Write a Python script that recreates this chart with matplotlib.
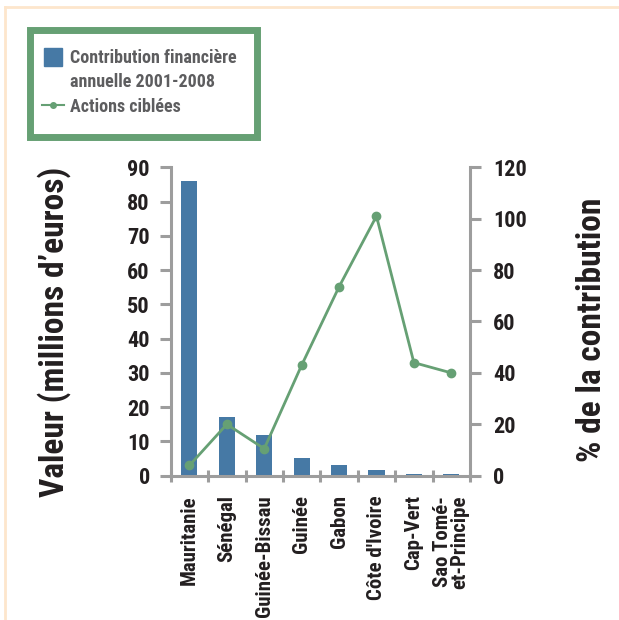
import matplotlib
matplotlib.use("Agg")
import matplotlib.pyplot as plt
from matplotlib.lines import Line2D
from matplotlib.patches import Rectangle
import numpy as np

plt.rcParams['font.family'] = ['Roboto Condensed', 'DejaVu Sans']

# data
pays = ["Mauritanie", "Sénégal", "Guinée-Bissau", "Guinée", "Gabon",
        "Côte d'Ivoire", "Cap-Vert", "Sao Tomé-\net-Principe"]
contribution = [86, 17, 12, 5.2, 3.2, 1.7, 0.6, 0.6]       # millions d'euros
actions_pct = [4, 20, 10.5, 43, 73.5, 101, 44, 40]          # % de la contribution
ticks_gauche = list(range(0, 91, 10))
ticks_droite = list(range(0, 121, 20))

bleu = '#4679a5'
vert = '#66a074'
gris = '#9d9d9d'
noir = '#231f20'

fig = plt.figure(figsize=(6.19, 6.20), dpi=100)
ax = fig.add_axes([170.7 / 619, 1 - 475.7 / 620, (470 - 170.7) / 619, (475.7 - 167.3) / 620])

x = np.arange(len(pays))
bars = ax.bar(x, contribution, width=0.43, color=bleu, zorder=2)
ax.set_xlim(-0.5, len(pays) - 0.5)
ax.set_ylim(0, 90)
ax.set_yticks(ticks_gauche)

# ticks between categories, labels at centres
ax.set_xticks(np.arange(-0.5, len(pays), 1))
ax.set_xticklabels([])
ax.set_xticks(x, minor=True)
ax.set_xticklabels(pays, minor=True, rotation=90, ha='center', va='top',
                   fontsize=15, fontweight='bold', color=noir, linespacing=0.85)
ax.tick_params(axis='x', which='major', direction='inout', length=9, width=2.2, color=gris)
ax.tick_params(axis='x', which='minor', length=0, pad=14)
ax.tick_params(axis='y', direction='out', length=8, width=2.2, color=gris, pad=7,
               labelsize=16, labelcolor=noir)
for lab in ax.get_yticklabels():
    lab.set_fontweight('bold')

for s in ['top', 'right']:
    ax.spines[s].set_visible(False)
for s in ['left', 'bottom']:
    ax.spines[s].set_color(gris)
    ax.spines[s].set_linewidth(2.2)

ax2 = ax.twinx()
line, = ax2.plot(x, actions_pct, color=vert, lw=2, marker='o', ms=6, zorder=3)
ax2.set_ylim(0, 120)
ax2.set_yticks(ticks_droite)
ax2.tick_params(axis='y', direction='out', length=8, width=2.2, color=gris, pad=8.5,
                labelsize=16, labelcolor=noir)
for lab in ax2.get_yticklabels():
    lab.set_fontweight('bold')
for s in ['top', 'left', 'bottom']:
    ax2.spines[s].set_visible(False)
ax2.spines['right'].set_color(gris)
ax2.spines['right'].set_linewidth(2.2)

fig.text(54 / 619, 1 - 332 / 620, "Valeur (millions d\u2019euros)", rotation=90,
         ha='center', va='center', fontsize=24, fontweight='heavy', color=noir)
fig.text(592 / 619, 1 - 330 / 620, "% de la contribution", rotation=90,
         ha='center', va='center', fontsize=24, fontweight='heavy', color=noir)

# legend box
fig.add_artist(Rectangle((30 / 619, 1 - 137 / 620), 227 / 619, 107 / 620,
                         transform=fig.transFigure, fill=False, edgecolor=vert, lw=5))
h_bar = Line2D([], [], marker='s', ls='', ms=13, color=bleu)
h_vide = Line2D([], [], ls='', marker='')
h_line = Line2D([], [], color=vert, lw=1.5, marker='o', ms=4)
leg = fig.legend([h_bar, h_vide, h_line],
                 ["Contribution financière", "annuelle 2001-2008", "Actions ciblées"],
                 loc='upper left', bbox_to_anchor=(42 / 619, 1 - 49 / 620),
                 frameon=False, fontsize=13, handlelength=1.2, handletextpad=0.35,
                 labelspacing=0.35, borderpad=0, borderaxespad=0)
for t in leg.get_texts():
    t.set_color('#5d5d5f')
    t.set_fontweight('bold')

# page frame
fig.add_artist(Line2D([5 / 619, 1], [1 - 7 / 620, 1 - 7 / 620], transform=fig.transFigure,
                      color='#fde6cc', lw=2))
fig.add_artist(Line2D([5 / 619, 5 / 619], [0, 1 - 7 / 620], transform=fig.transFigure,
                      color='#fde6cc', lw=2))

fig.savefig("out.png", dpi=100)
